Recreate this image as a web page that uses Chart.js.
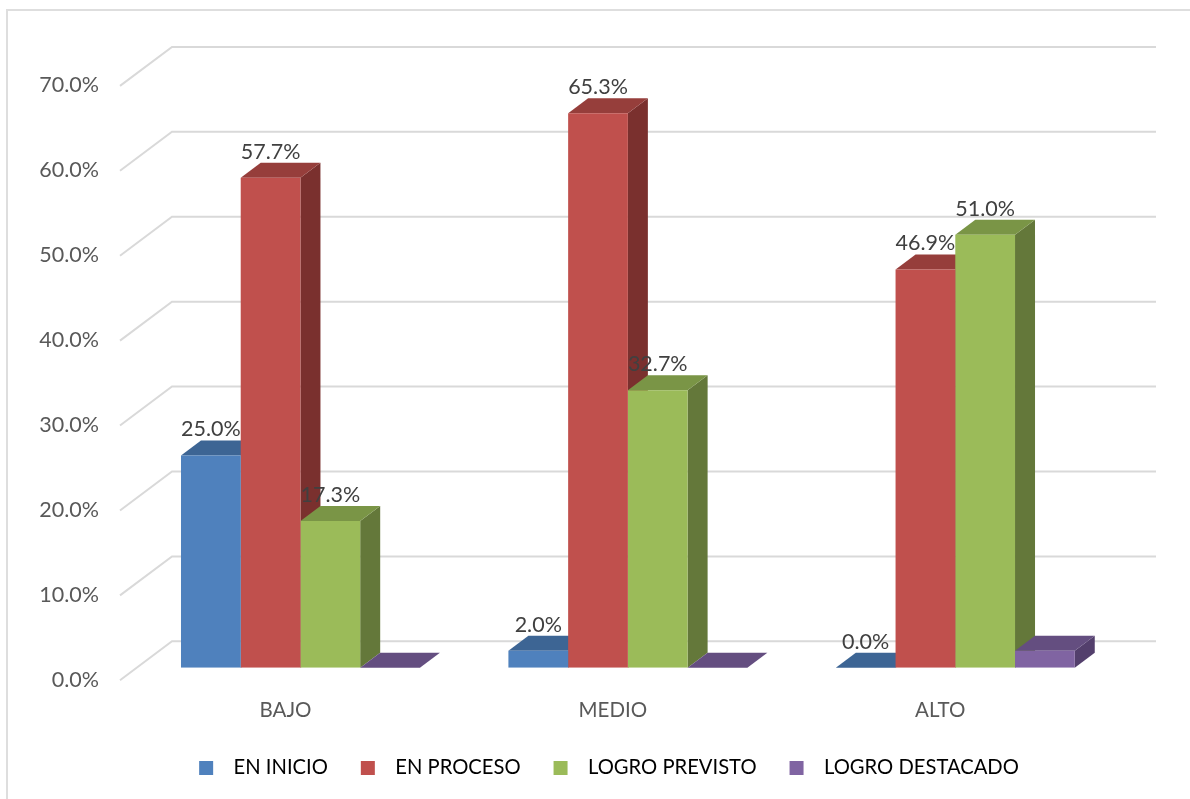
<!DOCTYPE html>
<html><head><meta charset="utf-8">
<style>html,body{margin:0;padding:0;background:#fff}canvas{display:block}</style>
<script src="https://cdn.jsdelivr.net/npm/chart.js@4"></script>
</head><body><canvas id="c" width="1190" height="799"></canvas>
<script>
const categories = ["BAJO", "MEDIO", "ALTO"];
const seriesNames = ["EN INICIO", "EN PROCESO", "LOGRO PREVISTO", "LOGRO DESTACADO"];
const enInicio = [25.0, 2.0, 0.0];
const enProceso = [57.7, 65.3, 46.9];
const logroPrevisto = [17.3, 32.7, 51.0];
const logroDestacado = [0.0, 0.0, 2.0];
const seriesValues = [enInicio, enProceso, logroPrevisto, logroDestacado];
const frontColors = ["#4F81BD", "#C0504D", "#9BBB59", "#8064A2"];
const topColors = ["#3D6594", "#963E3B", "#7A9546", "#644E80"];
const sideColors = ["#345578", "#7A302E", "#64783A", "#533F6C"];
const labelledSeries = [true, true, true, false];
const FONT = "Lato";

const depth = {dx: 20, dy: -15};
const wall = {frontX: 120, frontDy: 12.5, backX: 172, backDy: -26.5, endX: 1156};
const legendShift = {x: 49.5, y: -11};

const bars3d = {
  id: "bars3d",
  afterLayout(chart) {
    const lg = chart.legend;
    lg.left += legendShift.x; lg.right += legendShift.x;
    lg.top += legendShift.y; lg.bottom += legendShift.y;
  },
  beforeDatasetsDraw(chart) {
    const {ctx, scales: {y}} = chart;
    // frame
    ctx.save();
    ctx.strokeStyle = "#DEDEDE"; ctx.lineWidth = 2;
    ctx.beginPath(); ctx.moveTo(7, 799); ctx.lineTo(7, 10); ctx.lineTo(1190, 10); ctx.stroke();
    // walls
    ctx.strokeStyle = "#D9D9D9"; ctx.lineWidth = 2;
    y.ticks.forEach(t => {
      const p = y.getPixelForValue(t.value);
      ctx.beginPath();
      ctx.moveTo(wall.frontX, p + wall.frontDy);
      ctx.lineTo(wall.backX, p + wall.backDy);
      ctx.lineTo(wall.endX, p + wall.backDy);
      ctx.stroke();
    });
    // side and top faces
    chart.data.datasets.forEach((ds, i) => {
      chart.getDatasetMeta(i).data.forEach(bar => {
        const half = bar.width / 2, l = bar.x - half, r = bar.x + half, t = bar.y, b = bar.base;
        ctx.fillStyle = sideColors[i];
        ctx.beginPath();
        ctx.moveTo(r, t); ctx.lineTo(r + depth.dx, t + depth.dy);
        ctx.lineTo(r + depth.dx, b + depth.dy); ctx.lineTo(r, b); ctx.closePath(); ctx.fill();
        ctx.fillStyle = topColors[i];
        ctx.beginPath();
        ctx.moveTo(l, t); ctx.lineTo(l + depth.dx, t + depth.dy);
        ctx.lineTo(r + depth.dx, t + depth.dy); ctx.lineTo(r, t); ctx.closePath(); ctx.fill();
      });
    });
    ctx.restore();
  },
  afterDatasetsDraw(chart) {
    const {ctx} = chart;
    ctx.save();
    ctx.fillStyle = "#404040";
    ctx.font = "21.5px " + FONT;
    ctx.textAlign = "center"; ctx.textBaseline = "middle";
    chart.data.datasets.forEach((ds, i) => {
      if (!labelledSeries[i]) return;
      chart.getDatasetMeta(i).data.forEach((bar, j) => {
        ctx.fillText(ds.data[j].toFixed(1) + "%", bar.x, bar.y - 26);
      });
    });
    ctx.restore();
  }
};

new Chart(document.getElementById("c"), {
  type: "bar",
  data: {
    labels: categories,
    datasets: seriesNames.map((name, i) => ({
      label: name, data: seriesValues[i],
      backgroundColor: frontColors[i], borderWidth: 0,
      barPercentage: 1, categoryPercentage: 239 / 327.5
    }))
  },
  plugins: [bars3d],
  options: {
    responsive: false, animation: false, devicePixelRatio: 1,
    layout: {autoPadding: false, padding: {left: 0, right: 71, top: 73.4, bottom: 0}},
    plugins: {
      tooltip: {enabled: false},
      legend: {
        position: "bottom",
        labels: {
          boxWidth: 14, boxHeight: 14, padding: 33, color: "#595959",
          font: {family: FONT, size: 20.2},
          generateLabels: chart => chart.data.datasets.map((ds, i) => ({
            text: "  " + ds.label, fillStyle: frontColors[i], strokeStyle: frontColors[i],
            lineWidth: 0, datasetIndex: i, hidden: false
          }))
        }
      }
    },
    scales: {
      x: {
        grid: {display: false, drawTicks: false}, border: {display: false},
        ticks: {color: "#595959", font: {family: FONT, size: 20.5}, padding: 30, labelOffset: -15, maxRotation: 0},
        afterFit: s => { s.height = 68; }
      },
      y: {
        min: 0, max: 70,
        grid: {display: false, drawTicks: false}, border: {display: false},
        ticks: {
          stepSize: 10, color: "#595959", font: {family: FONT, size: 21.5},
          padding: 37.75, labelOffset: 12,
          callback: v => v.toFixed(1) + "%"
        },
        afterFit: s => { s.width = 136.75; }
      }
    }
  }
});
</script></body></html>
